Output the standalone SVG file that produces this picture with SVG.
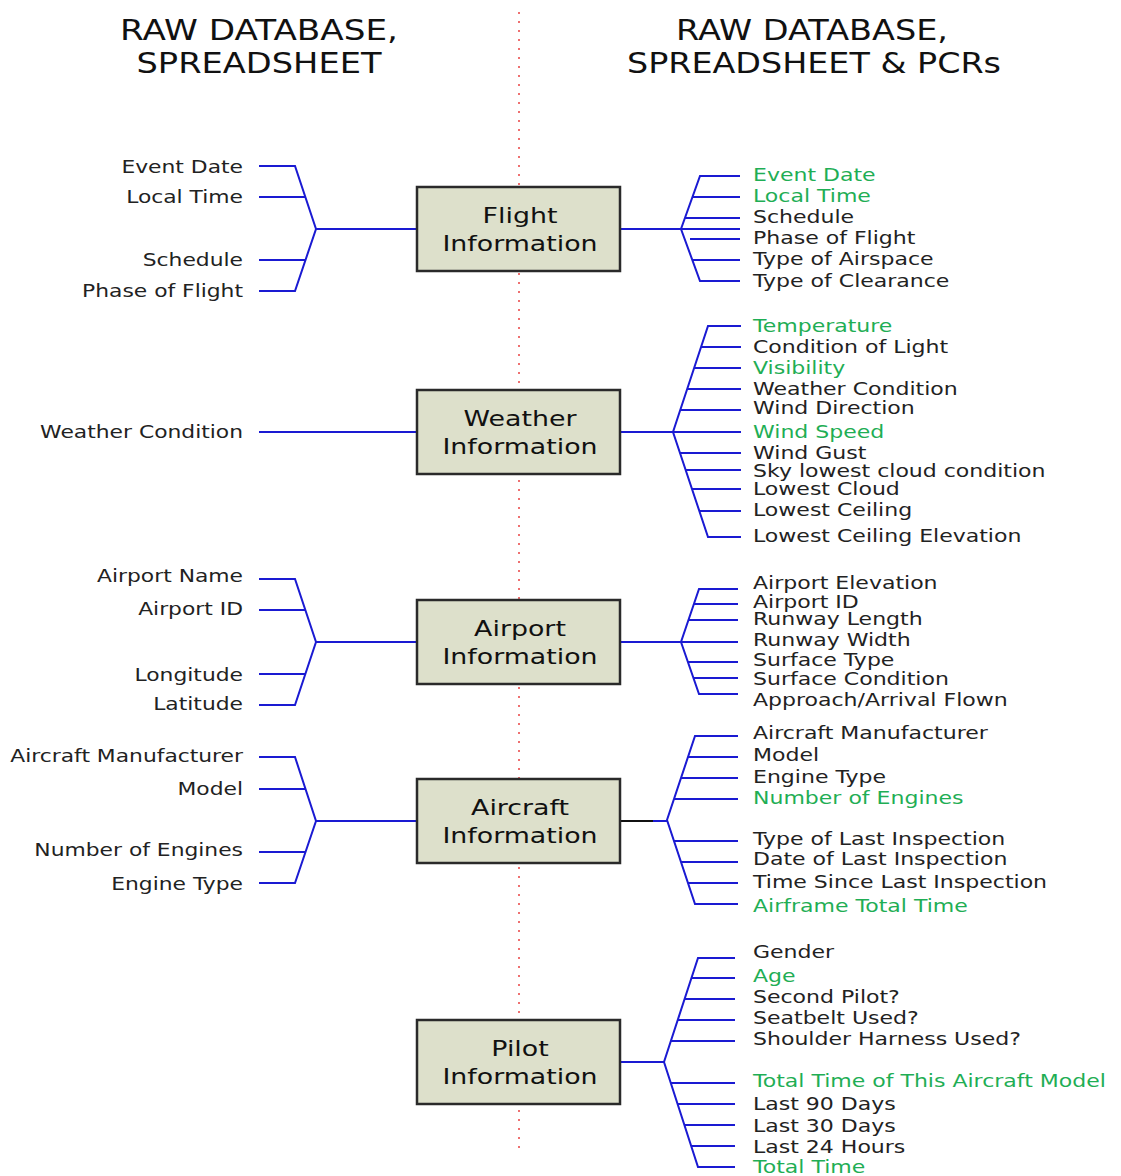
<svg xmlns="http://www.w3.org/2000/svg" width="1121" height="1176" viewBox="0 0 1121 1176">
<style>
.t{font-family:"DejaVu Sans","Liberation Sans",sans-serif;font-size:18.5px;fill:#222}
.g{fill:#1fae55}
.l{text-anchor:end}
.h{font-family:"DejaVu Sans","Liberation Sans",sans-serif;font-size:29px;fill:#111;text-anchor:middle}
.bx{fill:#dde0cb;stroke:#2a2a2a;stroke-width:2.5}
.bt{font-family:"DejaVu Sans","Liberation Sans",sans-serif;font-size:22px;fill:#111;text-anchor:middle}
.c{fill:none;stroke:#1a1ad2;stroke-width:2}
</style>
<rect width="1121" height="1176" fill="#fff"/>
<g id="headers">
<text class="h" x="259" y="40" textLength="278" lengthAdjust="spacingAndGlyphs">RAW DATABASE,</text>
<text class="h" x="259" y="73" textLength="245" lengthAdjust="spacingAndGlyphs">SPREADSHEET</text>
<text class="h" x="812" y="40" textLength="272" lengthAdjust="spacingAndGlyphs">RAW DATABASE,</text>
<text class="h" x="814" y="73" textLength="374" lengthAdjust="spacingAndGlyphs">SPREADSHEET &amp; PCRs</text>
</g>
<line x1="519" y1="12" x2="519" y2="1150" stroke="#ee7070" stroke-width="2" stroke-dasharray="2,7"/>
<g id="connectors">
<path class="c" d="M259 166H295L316 229L295 291H259M259 197H305M259 260H305M316 229H417"/>
<path class="c" d="M620 229H681M740 176H700L681 229L700 281H740M681 229H740M693 197H740M685 218H740M690 239H740M693 260H740"/>
<path class="c" d="M259 432H417"/>
<path class="c" d="M620 432H673M741 326H708L673 432L708 537H741M673 432H741M701 347H741M694 368H741M687 389H741M680 410H741M680 453H741M686 470H741M692 489H741M699 511H741"/>
<path class="c" d="M259 579H295L316 642L295 705H259M259 610H305M259 674H305M316 642H417"/>
<path class="c" d="M620 642H681M738 589H699L681 642L699 694H738M681 642H738M694 604H738M689 620H738M688 662H738M693 678H738"/>
<path class="c" d="M259 757H295L316 821L295 883H259M259 789H305M259 852H305M316 821H417"/>
<path d="M620 821H653" fill="none" stroke="#111" stroke-width="2"/>
<path class="c" d="M653 821H667M738 736H695L667 820L695 904H738M688 757H738M681 778H738M674 799H738M674 841H738M681 862H738M688 883H738"/>
<path class="c" d="M620 1062H664M735 958H698L664 1062L698 1167H735M691 978H735M685 999H735M678 1020H735M671 1041H735M671 1083H735M678 1104H735M685 1125H735M691 1146H735"/>
</g>
<g id="flight">
<rect class="bx" x="417" y="187" width="203" height="84"/>
<g transform="translate(520 0) scale(1.22 1)"><text class="bt" x="0" y="223">Flight</text><text class="bt" x="0" y="251">Information</text></g>
</g>
<g id="weather">
<rect class="bx" x="417" y="390" width="203" height="84"/>
<g transform="translate(520 0) scale(1.22 1)"><text class="bt" x="0" y="426">Weather</text><text class="bt" x="0" y="454">Information</text></g>
</g>
<g id="airport">
<rect class="bx" x="417" y="600" width="203" height="84"/>
<g transform="translate(520 0) scale(1.22 1)"><text class="bt" x="0" y="636">Airport</text><text class="bt" x="0" y="664">Information</text></g>
</g>
<g id="aircraft">
<rect class="bx" x="417" y="779" width="203" height="84"/>
<g transform="translate(520 0) scale(1.22 1)"><text class="bt" x="0" y="815">Aircraft</text><text class="bt" x="0" y="843">Information</text></g>
</g>
<g id="pilot">
<rect class="bx" x="417" y="1020" width="203" height="84"/>
<g transform="translate(520 0) scale(1.22 1)"><text class="bt" x="0" y="1056">Pilot</text><text class="bt" x="0" y="1084">Information</text></g>
</g>
<g id="left-labels" transform="translate(243 0) scale(1.18 1)">
<text class="t l" x="0" y="173">Event Date</text>
<text class="t l" x="0" y="203">Local Time</text>
<text class="t l" x="0" y="266">Schedule</text>
<text class="t l" x="0" y="297">Phase of Flight</text>
<text class="t l" x="0" y="438">Weather Condition</text>
<text class="t l" x="0" y="582">Airport Name</text>
<text class="t l" x="0" y="615">Airport ID</text>
<text class="t l" x="0" y="681">Longitude</text>
<text class="t l" x="0" y="710">Latitude</text>
<text class="t l" x="0" y="762">Aircraft Manufacturer</text>
<text class="t l" x="0" y="795">Model</text>
<text class="t l" x="0" y="856">Number of Engines</text>
<text class="t l" x="0" y="890">Engine Type</text>
</g>
<g id="right-labels" transform="translate(753 0) scale(1.19 1)">
<text class="t g" x="0" y="181">Event Date</text>
<text class="t g" x="0" y="202">Local Time</text>
<text class="t" x="0" y="223">Schedule</text>
<text class="t" x="0" y="244">Phase of Flight</text>
<text class="t" x="0" y="265">Type of Airspace</text>
<text class="t" x="0" y="287">Type of Clearance</text>
<text class="t g" x="0" y="332">Temperature</text>
<text class="t" x="0" y="353">Condition of Light</text>
<text class="t g" x="0" y="374">Visibility</text>
<text class="t" x="0" y="395">Weather Condition</text>
<text class="t" x="0" y="414">Wind Direction</text>
<text class="t g" x="0" y="438">Wind Speed</text>
<text class="t" x="0" y="459">Wind Gust</text>
<text class="t" x="0" y="477">Sky lowest cloud condition</text>
<text class="t" x="0" y="495">Lowest Cloud</text>
<text class="t" x="0" y="516">Lowest Ceiling</text>
<text class="t" x="0" y="542">Lowest Ceiling Elevation</text>
<text class="t" x="0" y="589">Airport Elevation</text>
<text class="t" x="0" y="608">Airport ID</text>
<text class="t" x="0" y="625">Runway Length</text>
<text class="t" x="0" y="646">Runway Width</text>
<text class="t" x="0" y="666">Surface Type</text>
<text class="t" x="0" y="685">Surface Condition</text>
<text class="t" x="0" y="706">Approach/Arrival Flown</text>
<text class="t" x="0" y="739">Aircraft Manufacturer</text>
<text class="t" x="0" y="761">Model</text>
<text class="t" x="0" y="783">Engine Type</text>
<text class="t g" x="0" y="804">Number of Engines</text>
<text class="t" x="0" y="845">Type of Last Inspection</text>
<text class="t" x="0" y="865">Date of Last Inspection</text>
<text class="t" x="0" y="888">Time Since Last Inspection</text>
<text class="t g" x="0" y="912">Airframe Total Time</text>
<text class="t" x="0" y="958">Gender</text>
<text class="t g" x="0" y="982">Age</text>
<text class="t" x="0" y="1003">Second Pilot?</text>
<text class="t" x="0" y="1024">Seatbelt Used?</text>
<text class="t" x="0" y="1045">Shoulder Harness Used?</text>
<text class="t g" x="0" y="1087">Total Time of This Aircraft Model</text>
<text class="t" x="0" y="1110">Last 90 Days</text>
<text class="t" x="0" y="1132">Last 30 Days</text>
<text class="t" x="0" y="1153">Last 24 Hours</text>
<text class="t g" x="0" y="1173">Total Time</text>
</g>
</svg>
